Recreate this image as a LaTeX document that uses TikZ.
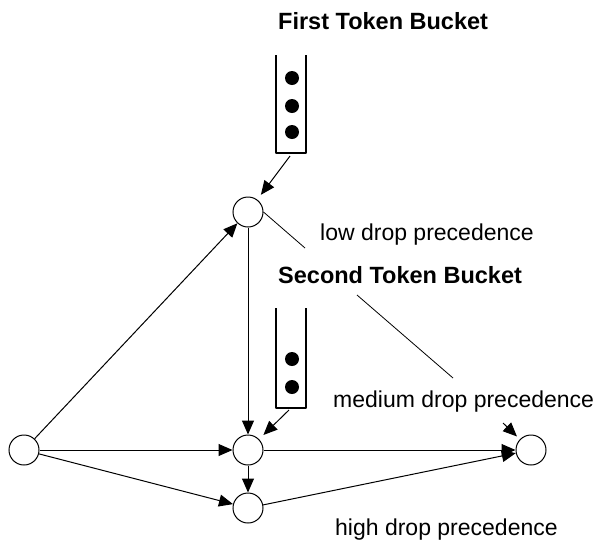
\documentclass[tikz,border=0pt]{standalone}
\usepackage{fontspec}
\setmainfont{Liberation Sans}
\usetikzlibrary{arrows.meta}
\begin{document}
\begin{tikzpicture}[x=1pt,y=-1pt,
  state/.style={circle,draw,line width=1pt,minimum size=30pt,inner sep=0pt},
  flow/.style={-{Triangle[length=14pt,width=12pt]},line width=1pt},
  callout/.style={line width=0.8pt},
  bucket/.style={line width=2.6pt,line join=round},
  token/.style={fill=black},
  lbl/.style={anchor=base west,inner sep=0pt,font=\fontsize{23}{27}\selectfont},
  ttl/.style={anchor=base west,inner sep=0pt,font=\fontsize{23.5}{27}\selectfont\bfseries}]
\useasboundingbox (0,0) rectangle (603,539);

% states
\node[state] (src)  at (24,450)  {};
\node[state] (low)  at (248,212) {};
\node[state] (med)  at (248,450) {};
\node[state] (high) at (248,508) {};
\node[state] (dst)  at (531,450) {};

% token buckets
\draw[bucket] (276,55) -- (276,153) -- (306,153) -- (306,55);
\foreach \y in {78,106,132} \fill[token] (292,\y) circle (7);
\coordinate (b1) at (290,156);
\draw[bucket] (276,308) -- (276,408) -- (306,408) -- (306,308);
\foreach \y in {359,387} \fill[token] (292,\y) circle (7);
\coordinate (b2) at (289,410);

% labels
\node[ttl] (t1) at (278,29)  {First Token Bucket};
\node[ttl] (t2) at (278,283) {Second Token Bucket};
\node[lbl] (l1) at (320,240) {low drop precedence};
\node[lbl] (l2) at (333,407) {medium drop precedence};
\node[lbl] (l3) at (335,535) {high drop precedence};

% flows
\draw[flow] (src) -- (low);
\draw[flow] (src) -- (med);
\draw[flow] (src) -- (high);
\draw[flow] (low) -- (med);
\draw[flow] (med) -- (high);
\draw[flow] (med) -- (dst);
\draw[flow] (high) -- (dst);
\draw[flow,shorten >=6pt] (b1) -- (low);
\draw[flow,shorten >=6pt] (b2) -- (med);
\coordinate (m1) at (503,423);
\draw[flow,shorten >=4pt] (m1) -- (dst);

% callout lines
\coordinate (c1) at (305,248);
\draw[callout] (low.east) -- (c1);
\coordinate (c2a) at (357,295);
\coordinate (c2b) at (453,378);
\draw[callout] (c2a) -- (c2b);
\end{tikzpicture}
\end{document}
